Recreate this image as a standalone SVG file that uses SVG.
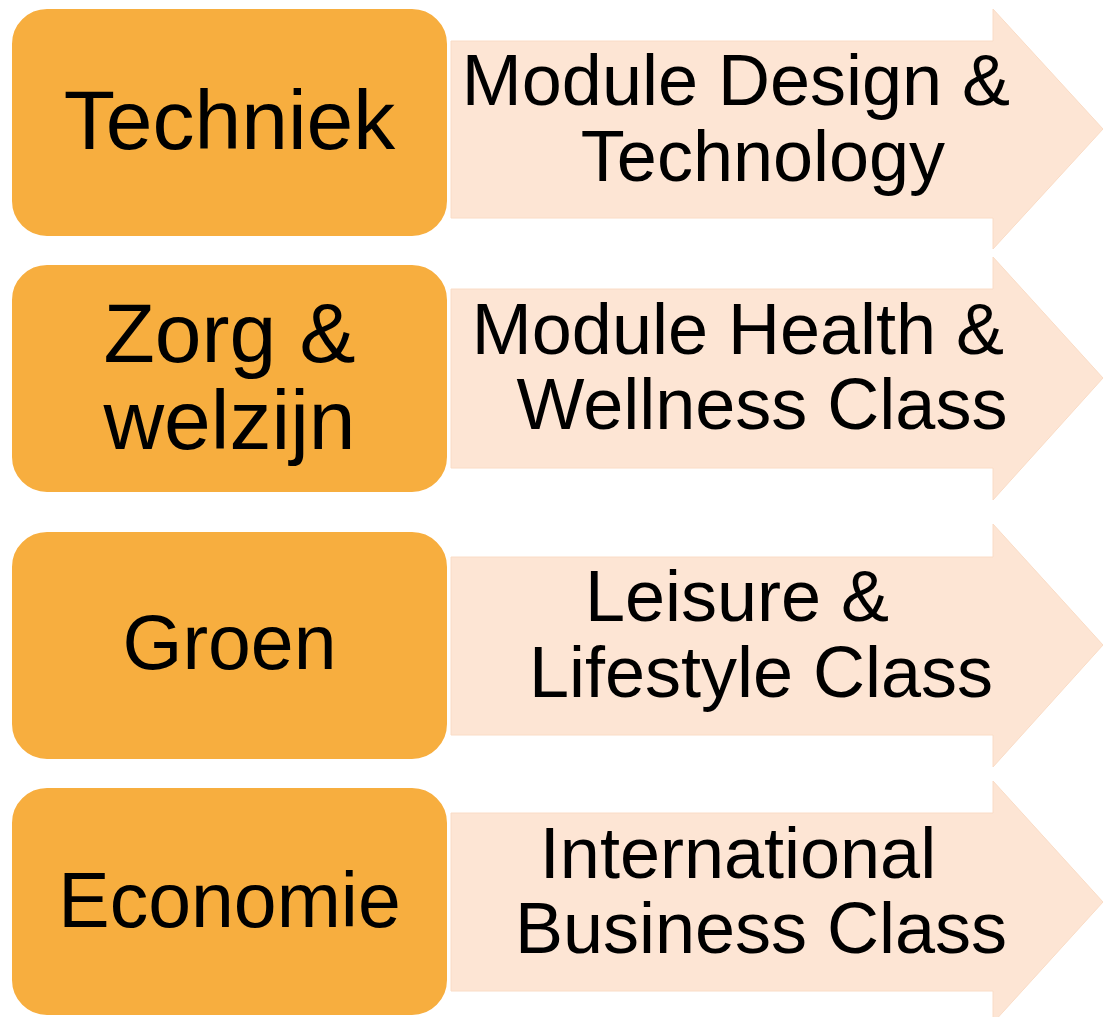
<svg xmlns="http://www.w3.org/2000/svg" width="1103" height="1017" viewBox="0 0 1103 1017">
<style>
.arrow{fill:#FDE5D4;stroke:#FADCC6;stroke-width:1}
.box{fill:#F7AE3F;stroke:#FFFFFF;stroke-width:2}
.t{font-family:"Liberation Sans",Arial,sans-serif;fill:#000000;text-anchor:middle}
.bt{font-size:84px}
.bs{font-size:77px}
.at{font-size:72px}
</style>
<rect width="1103" height="1017" fill="#FFFFFF"/>
<g id="connectors">
<path id="arrow1" class="arrow" d="M451,41 H993 V9 L1103,129 L993,249 V218 H451 Z"/>
<path id="arrow2" class="arrow" d="M451,289 H993 V257 L1103,378 L993,500 V468 H451 Z"/>
<path id="arrow3" class="arrow" d="M451,557 H993 V524 L1103,645 L993,767 V735 H451 Z"/>
<path id="arrow4" class="arrow" d="M451,813 H993 V781 L1103,902 L993,1023 V991 H451 Z"/>
</g>
<g id="arrow1-label">
<text class="t at" x="736" y="105">Module Design &amp;</text>
<text class="t at" x="763" y="181">Technology</text>
</g>
<g id="arrow2-label">
<text class="t at" x="738" y="354">Module Health &amp;</text>
<text class="t at" x="762" y="429">Wellness Class</text>
</g>
<g id="arrow3-label">
<text class="t at" x="737" y="621">Leisure &amp;</text>
<text class="t at" x="761" y="697">Lifestyle Class</text>
</g>
<g id="arrow4-label">
<text class="t at" x="738" y="878">International</text>
<text class="t at" x="761" y="953">Business Class</text>
</g>
<g id="node-techniek">
<rect class="box" x="11" y="8" width="437" height="229" rx="36" ry="36"/>
<text class="t bt" x="229.5" y="149">Techniek</text>
</g>
<g id="node-zorg">
<rect class="box" x="11" y="264" width="437" height="229" rx="36" ry="36"/>
<text class="t bt" x="229.5" y="362">Zorg &amp;</text>
<text class="t bt" x="229.5" y="449">welzijn</text>
</g>
<g id="node-groen">
<rect class="box" x="11" y="531" width="437" height="229" rx="36" ry="36"/>
<text class="t bs" x="229.5" y="669">Groen</text>
</g>
<g id="node-economie">
<rect class="box" x="11" y="787" width="437" height="229" rx="36" ry="36"/>
<text class="t bs" x="229.5" y="927">Economie</text>
</g>
</svg>
